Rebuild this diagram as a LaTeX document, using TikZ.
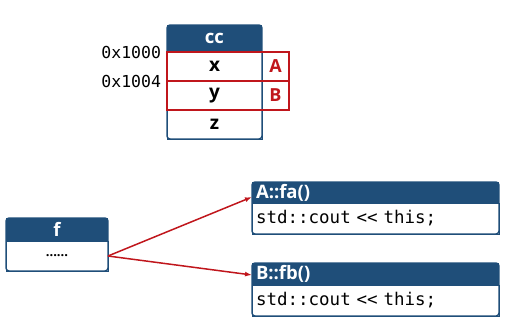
\documentclass[tikz,border=0pt]{standalone}
\usepackage{fontspec}
\setmainfont{Open Sans}
\setmonofont{DejaVu Sans Mono}
\usepackage{xcolor}
\usetikzlibrary{positioning, arrows.meta}
\definecolor{hdrblue}{HTML}{1F4E79}
\definecolor{tagred}{HTML}{C0161C}

\begin{document}
\begin{tikzpicture}[x=1pt, y=-1pt,
  node distance=0pt,
  every node/.style={outer sep=0pt, inner sep=0pt},
  hdr/.style={fill=hdrblue, text=white, font=\fontsize{18.5}{18.5}\selectfont\bfseries},
  cell/.style={draw=hdrblue, line width=0.8pt, fill=white, font=\fontsize{19}{19}\selectfont\bfseries},
  frame/.style={draw=hdrblue, line width=1.4pt, rounded corners=3pt},
  tag/.style={text=tagred, minimum width=27pt, minimum height=29pt, font=\fontsize{18}{18}\selectfont\bfseries},
  addr/.style={font=\fontsize{16.5}{16.5}\ttfamily},
  code/.style={cell, text width=239pt, inner xsep=4pt, align=left, font=\fontsize{17.5}{17.5}\ttfamily},
  link/.style={draw=tagred, line width=1.5pt, -{Latex[length=7pt, width=5pt]}}]
\useasboundingbox (0,0) rectangle (512,325);
\node[hdr, minimum width=95pt, minimum height=27pt] (cc) at (214.5,38.5) {cc};
\node[cell, minimum width=95pt, minimum height=29pt, below=of cc] (ccx) {x};
\node[cell, minimum width=95pt, minimum height=29pt, below=of ccx] (ccy) {y};
\node[cell, minimum width=95pt, minimum height=29pt, below=of ccy] (ccz) {z};
\draw[frame] (cc.north west) rectangle (ccz.south east);
\node[tag, right=of ccx] (tagA) {A};
\node[tag, right=of ccy] (tagB) {B};
\draw[tagred, line width=1.8pt] (ccx.north west) rectangle (tagA.south east);
\draw[tagred, line width=1.8pt] (ccy.north west) rectangle (tagB.south east);
\node[addr, anchor=east] (adrx) at ([xshift=-6pt]ccx.north west) {0x1000};
\node[addr, anchor=east] (adry) at ([xshift=-6pt]ccy.north west) {0x1004};
\node[hdr, minimum width=102pt, minimum height=23pt] (f) at (57,229.5) {f};
\node[cell, minimum width=102pt, minimum height=30pt, below=of f, font=\fontsize{13}{13}\selectfont\bfseries] (fbody) {......};
\draw[frame] (f.north west) rectangle (fbody.south east);
\node[hdr, text width=239pt, inner xsep=4pt, align=left, minimum height=21pt] (fa) at (375.5,192.5) {A::fa()};
\node[code, minimum height=31pt, below=of fa] (fabody) {std::cout << this;};
\draw[frame] (fa.north west) rectangle (fabody.south east);
\node[hdr, text width=239pt, inner xsep=4pt, align=left, minimum height=22pt] (fb) at (375.5,274) {B::fb()};
\node[code, minimum height=31pt, below=of fb] (fbbody) {std::cout << this;};
\draw[frame] (fb.north west) rectangle (fbbody.south east);
\draw[link] (fbody.east) -- ([yshift=6pt]fa.south west);
\draw[link] (fbody.east) -- ([yshift=10pt]fb.south west);
\end{tikzpicture}
\end{document}
